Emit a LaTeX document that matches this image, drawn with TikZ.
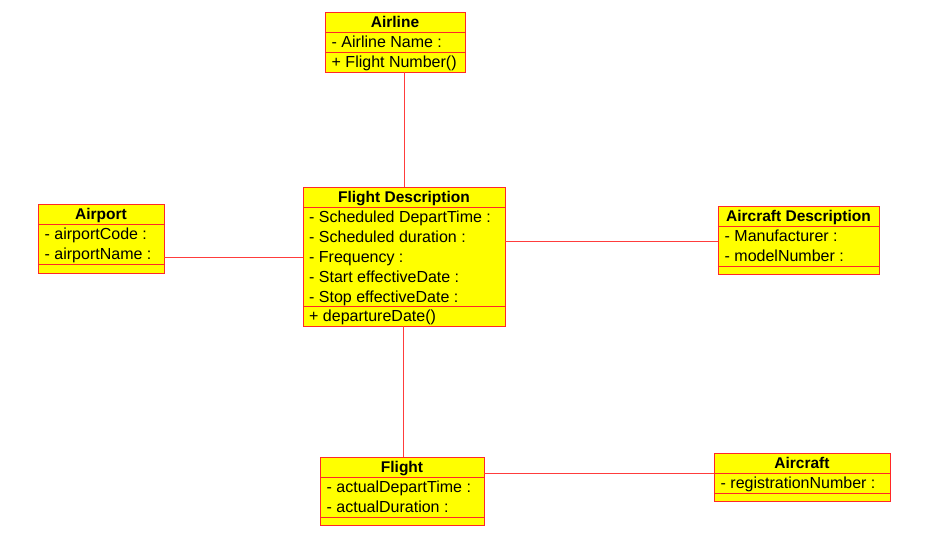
\documentclass[tikz,border=0pt]{standalone}
\usepackage{fontspec}
\setmainfont{Liberation Sans}
\definecolor{bd}{RGB}{255,40,40}
\definecolor{cn}{RGB}{255,60,60}
\definecolor{ylw}{RGB}{255,255,0}
\tikzset{
 cls/.style={draw=bd, fill=ylw, line width=1pt, anchor=north west, inner sep=0pt, outer sep=0pt},
 sep/.style={draw=bd, line width=1pt},
 conn/.style={draw=cn, line width=0.95pt},
 ttl/.style={anchor=base, font=\bfseries\fontsize{15.5}{18}\selectfont, inner sep=0pt},
 att/.style={anchor=base west, font=\fontsize{16}{18}\selectfont, inner sep=0pt},
}
\begin{document}
\begin{tikzpicture}[x=1pt,y=-1pt]
\useasboundingbox[fill=white] (0,0) rectangle (950,533);
% Airline
\node[cls, minimum width=140pt, minimum height=60pt] (airline) at (325,12) {};
\draw[sep] (325,32) -- (465,32) (325,52) -- (465,52);
\node[ttl] (airlineT) at (395,27.5) {Airline};
\node[att] (airlineA1) at (331.5,47.5) {- Airline Name :};
\node[att] (airlineO1) at (331.5,67.5) {+ Flight Number()};
% Flight Description
\node[cls, minimum width=202pt, minimum height=139pt] (fd) at (303,187) {};
\draw[sep] (303,207) -- (505,207) (303,306) -- (505,306);
\node[ttl] (fdT) at (404,202.5) {Flight Description};
\node[att] (fdA1) at (309,222.5) {- Scheduled DepartTime :};
\node[att] (fdA2) at (309,242.5) {- Scheduled duration :};
\node[att] (fdA3) at (309,262.5) {- Frequency :};
\node[att] (fdA4) at (309,282.5) {- Start effectiveDate :};
\node[att] (fdA5) at (309,302.5) {- Stop effectiveDate :};
\node[att] (fdO1) at (309,321.5) {+ departureDate()};
% Airport
\node[cls, minimum width=126pt, minimum height=69pt] (airport) at (38,204) {};
\draw[sep] (38,224) -- (164,224) (38,264) -- (164,264);
\node[ttl] (airportT) at (101,219.5) {Airport};
\node[att] (airportA1) at (44.5,239.5) {- airportCode :};
\node[att] (airportA2) at (44.5,259.5) {- airportName :};
% Aircraft Description
\node[cls, minimum width=161pt, minimum height=68pt] (acd) at (718,206) {};
\draw[sep] (718,226) -- (879,226) (718,266) -- (879,266);
\node[ttl] (acdT) at (798.5,221.5) {Aircraft Description};
\node[att] (acdA1) at (724.5,241.5) {- Manufacturer :};
\node[att] (acdA2) at (724.5,261.5) {- modelNumber :};
% Flight
\node[cls, minimum width=164pt, minimum height=68pt] (flight) at (320,457) {};
\draw[sep] (320,477) -- (484,477) (320,517) -- (484,517);
\node[ttl] (flightT) at (402,472.5) {Flight};
\node[att] (flightA1) at (326.5,492.5) {- actualDepartTime :};
\node[att] (flightA2) at (326.5,512.5) {- actualDuration :};
% Aircraft
\node[cls, minimum width=176pt, minimum height=48pt] (ac) at (714,453) {};
\draw[sep] (714,473) -- (890,473) (714,493) -- (890,493);
\node[ttl] (acT) at (802,468.5) {Aircraft};
\node[att] (acA1) at (720.5,488.5) {- registrationNumber :};
% connectors
\coordinate (cx1) at (404,0);
\coordinate (cx2) at (403,0);
\coordinate (cy1) at (0,257);
\coordinate (cy2) at (0,241);
\coordinate (cy3) at (0,473);
\draw[conn] (airline.south -| cx1) -- (fd.north -| cx1);
\draw[conn] (airport.east |- cy1) -- (fd.west |- cy1);
\draw[conn] (fd.east |- cy2) -- (acd.west |- cy2);
\draw[conn] (fd.south -| cx2) -- (flight.north -| cx2);
\draw[conn] (flight.east |- cy3) -- (ac.west |- cy3);
\end{tikzpicture}
\end{document}
